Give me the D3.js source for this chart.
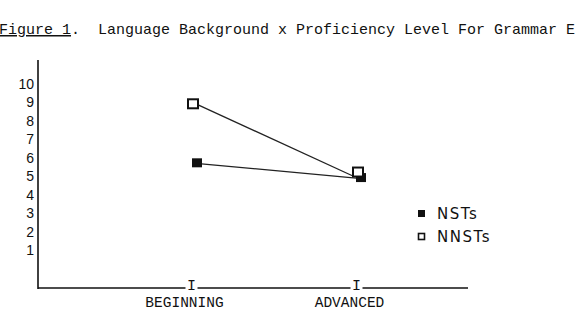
<!DOCTYPE html>
<html><head><meta charset="utf-8">
<script src="https://cdn.jsdelivr.net/npm/d3@7"></script>
<style>body{margin:0;background:#fff}svg{display:block}</style>
</head><body>
<script>
const categories = ["BEGINNING", "ADVANCED"];
const yTicks = [1,2,3,4,5,6,7,8,9,10];
const nsts = [5.7, 4.9];
const nnsts = [8.9, 5.2];
const seriesNames = ["NSTs", "NNSTs"];

const W = 577, H = 331;
const svg = d3.select("body").append("svg").attr("width", W).attr("height", H);
const mono = "'Liberation Mono','DejaVu Sans Mono',monospace";

// Title
const title = svg.append("text").attr("x", -1).attr("y", 34)
  .style("font-family", mono).style("font-size", "15px").style("white-space", "pre")
  .attr("xml:space", "preserve").attr("fill", "#111");
title.append("tspan").text("Figure 1").style("text-decoration", "underline");
title.append("tspan").text(".  Language Background x Proficiency Level For Grammar E");

const y = d3.scaleLinear().domain([1, 10]).range([250, 84]);
const x = d3.scalePoint().domain(categories).range([191, 356]);

// Y axis
const yAxis = d3.axisLeft(y).tickValues(yTicks).tickSize(0).tickPadding(4);
const gy = svg.append("g").attr("transform", "translate(38,0)").call(yAxis);
gy.select(".domain").remove();
gy.selectAll("text").style("font-family", "'Liberation Sans',Arial,sans-serif")
  .style("font-size", "14px").attr("fill", "#111");
svg.append("line").attr("x1", 38).attr("x2", 38).attr("y1", 60).attr("y2", 289)
  .attr("stroke", "#111").attr("stroke-width", 1.6);

// X axis line
svg.append("line").attr("x1", 38).attr("x2", 468).attr("y1", 288).attr("y2", 288)
  .attr("stroke", "#111").attr("stroke-width", 1.3);
const xAxis = d3.axisBottom(x).tickSize(0).tickPadding(9);
const gx = svg.append("g").attr("transform", "translate(0,288)").call(xAxis);
gx.select(".domain").remove();
gx.selectAll(".tick text").attr("dx", -7)
  .style("font-family", mono).style("font-size", "14.5px").attr("fill", "#111");
gx.selectAll(".tick").append("rect").attr("x", -6).attr("y", -3).attr("width", 12).attr("height", 6).attr("fill", "#fff");
gx.selectAll(".tick").append("text").text("I").attr("y", 1.5).attr("dy", 0).attr("text-anchor", "middle")
  .style("font-family", mono).style("font-size", "15px").attr("fill", "#111");

// Lines
svg.append("path").datum(nsts).attr("d", d3.line().x((d, i) => x(categories[i]) + (i ? 0 : 5)).y(d => y(d)))
  .attr("fill", "none").attr("stroke", "#222").attr("stroke-width", 1.3);
svg.append("path").datum(nnsts).attr("d", d3.line().x((d, i) => x(categories[i]) + (i ? -2 : 6)).y((d, i) => y(d) + (i ? 4 : 0)))
  .attr("fill", "none").attr("stroke", "#222").attr("stroke-width", 1.3);

// Markers
svg.selectAll(".nst").data(nsts).enter().append("rect")
  .attr("x", (d, i) => x(categories[i]) + (i ? 0 : 1)).attr("y", d => y(d) - 5)
  .attr("width", 10).attr("height", 9).attr("fill", "#111");
svg.selectAll(".nnst").data(nnsts).enter().append("rect")
  .attr("x", (d, i) => x(categories[i]) - 3).attr("y", d => y(d) - 5)
  .attr("width", 10).attr("height", 9).attr("fill", "#fff")
  .attr("stroke", "#111").attr("stroke-width", 2);

// Legend
const leg = svg.append("g");
leg.append("rect").attr("x", 418).attr("y", 210).attr("width", 7).attr("height", 7).attr("fill", "#111");
leg.append("rect").attr("x", 418.5).attr("y", 233.5).attr("width", 6).attr("height", 6)
  .attr("fill", "#fff").attr("stroke", "#111").attr("stroke-width", 1.6);
leg.append("text").attr("x", 437).attr("y", 219).text(seriesNames[0])
  .style("font-family", "'DejaVu Sans',sans-serif").style("font-size", "15px")
  .style("letter-spacing", "1.5px").attr("fill", "#111");
leg.append("text").attr("x", 437).attr("y", 242).text(seriesNames[1])
  .style("font-family", "'DejaVu Sans',sans-serif").style("font-size", "15px")
  .style("letter-spacing", "1.5px").attr("fill", "#111");
</script>
</body></html>
